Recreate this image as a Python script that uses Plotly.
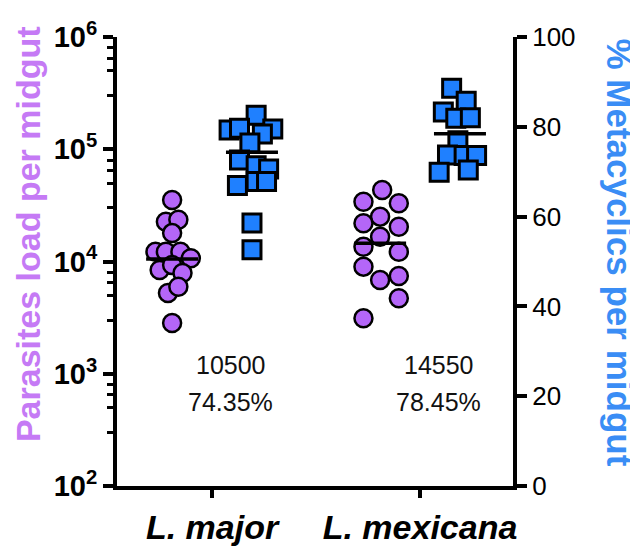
import plotly.graph_objects as go

# ---------------- data ----------------
categories = ["L. major", "L. mexicana"]

major_load = [35300, 22600, 23500, 17900, 12200, 12200, 12200, 10700, 8400, 9300, 7900, 5240, 5960, 2830]
mex_load = [43300, 34100, 33000, 25100, 21900, 20400, 16600, 13500, 12200, 9000, 6840, 7430, 4700, 3120]

major_meta = [82.6, 79.3, 79.5, 79.7, 78.4, 76.4, 72.6, 71.3, 70.6, 66.9, 67.8, 67.8, 58.6, 52.6]
mex_meta = [88.6, 85.7, 83.3, 81.9, 82.0, 76.9, 73.7, 73.6, 73.6, 70.4, 69.9]

means_load = [10500, 14550]
means_meta = [74.35, 78.45]

load_ticks = [1e2, 1e3, 1e4, 1e5, 1e6]
load_ticktext = ["10<sup>2</sup>", "10<sup>3</sup>", "10<sup>4</sup>", "10<sup>5</sup>", "10<sup>6</sup>"]
meta_ticks = [0, 20, 40, 60, 80, 100]

# ---------------- layout helpers (scatter placement) ----------------
col_off = 0.192      # circles left of category, squares right
half_line = 0.125    # half width of mean line
jit_major_load = [0, -0.03, 0.03, 0, -0.08, -0.03, 0.04, 0.09, -0.06, 0, 0.05, -0.02, 0.03, 0]
jit_mex_load = [0.01, -0.08, 0.09, 0, -0.08, 0.09, 0, -0.08, 0.09, -0.08, 0, 0.09, 0.09, -0.08]
jit_major_meta = [0.02, -0.11, 0.10, -0.06, 0.05, -0.01, -0.06, 0.02, 0.08, -0.07, 0.02, 0.07, 0, 0]
jit_mex_meta = [-0.04, 0.03, -0.08, -0.02, 0.05, -0.01, -0.06, 0.02, 0.08, 0.04, -0.10]

FONT = "Liberation Sans, Arial, sans-serif"
VIOLET = "#b466f8"
BLUE = "#1f80ff"

fig = go.Figure()

loads = [major_load, mex_load]
metas = [major_meta, mex_meta]
jl = [jit_major_load, jit_mex_load]
jm = [jit_major_meta, jit_mex_meta]

for i in range(2):
    fig.add_trace(go.Scatter(
        x=[i - col_off + j for j in jl[i]], y=loads[i], mode="markers",
        marker=dict(symbol="circle", size=18, color=VIOLET, line=dict(color="black", width=2.5)),
        yaxis="y", showlegend=False, hoverinfo="y"))
for i in range(2):
    fig.add_trace(go.Scatter(
        x=[i - col_off - half_line, i - col_off + half_line], y=[means_load[i]] * 2,
        mode="lines", line=dict(color="black", width=3.5), yaxis="y", showlegend=False))
for i in range(2):
    fig.add_trace(go.Scatter(
        x=[i + col_off + j for j in jm[i]], y=metas[i], mode="markers",
        marker=dict(symbol="square", size=18, color=BLUE, line=dict(color="black", width=3)),
        yaxis="y2", showlegend=False, hoverinfo="y"))
for i in range(2):
    fig.add_trace(go.Scatter(
        x=[i + col_off - half_line, i + col_off + half_line], y=[means_meta[i]] * 2,
        mode="lines", line=dict(color="black", width=3.5), yaxis="y2", showlegend=False))

annotations = []
for i in range(2):
    annotations.append(dict(x=i + 0.09, y=0.269, xref="x", yref="paper", showarrow=False,
                            xanchor="center", yanchor="middle",
                            text=f"{means_load[i]}", font=dict(family=FONT, size=25, color="#111111")))
    annotations.append(dict(x=i + 0.09, y=0.187, xref="x", yref="paper", showarrow=False,
                            xanchor="center", yanchor="middle",
                            text=f"{means_meta[i]:.2f}%", font=dict(family=FONT, size=25, color="#111111")))

annotations.append(dict(x=-0.226, y=0.56, xref="paper", yref="paper", showarrow=False,
                        xanchor="center", yanchor="middle", borderpad=0,
                        text="Parasites load per midgut", textangle=-90,
                        font=dict(family=FONT, size=34, color="#c57af5", weight="bold")))
annotations.append(dict(x=1.268, y=0.52, xref="paper", yref="paper", showarrow=False,
                        xanchor="center", yanchor="middle", borderpad=0,
                        text="% Metacyclics per midgut", textangle=90,
                        font=dict(family=FONT, size=35, color="#3a8df5", weight="bold")))

fig.update_layout(
    width=638, height=547,
    margin=dict(l=109, r=133, t=29, b=69, autoexpand=False),
    plot_bgcolor="white", paper_bgcolor="white",
    annotations=annotations,
    xaxis=dict(range=[-0.457, 1.447], tickvals=[0, 1], ticktext=categories, automargin=False,
               showline=True, linewidth=4, linecolor="black", ticks="outside",
               ticklen=8, tickwidth=4, tickcolor="black", showgrid=False, zeroline=False,
               ticklabelstandoff=0,
               tickfont=dict(family=FONT, size=34, color="black", weight="bold", style="italic")),
    yaxis=dict(type="log", range=[2, 6], tickvals=load_ticks, ticktext=load_ticktext, automargin=False,
               showline=True, linewidth=4, linecolor="black", ticks="outside",
               ticklen=10, tickwidth=4, tickcolor="black", showgrid=False, zeroline=False,
               tickfont=dict(family=FONT, size=29, color="black", weight="bold"),
               minor=dict(tickvals=[m * 10 ** k for k in range(2, 6) for m in (3, 5, 6.5, 8)],
                          ticks="outside", ticklen=6, tickwidth=3, tickcolor="black", showgrid=False)),
    yaxis2=dict(overlaying="y", side="right", range=[0, 100], tickvals=meta_ticks, automargin=False,
                showline=True, linewidth=4, linecolor="black", ticks="outside",
                ticklen=10, tickwidth=4, tickcolor="black", showgrid=False, zeroline=False,
                tickfont=dict(family=FONT, size=26, color="black")),
)

fig.write_html("out.html")
